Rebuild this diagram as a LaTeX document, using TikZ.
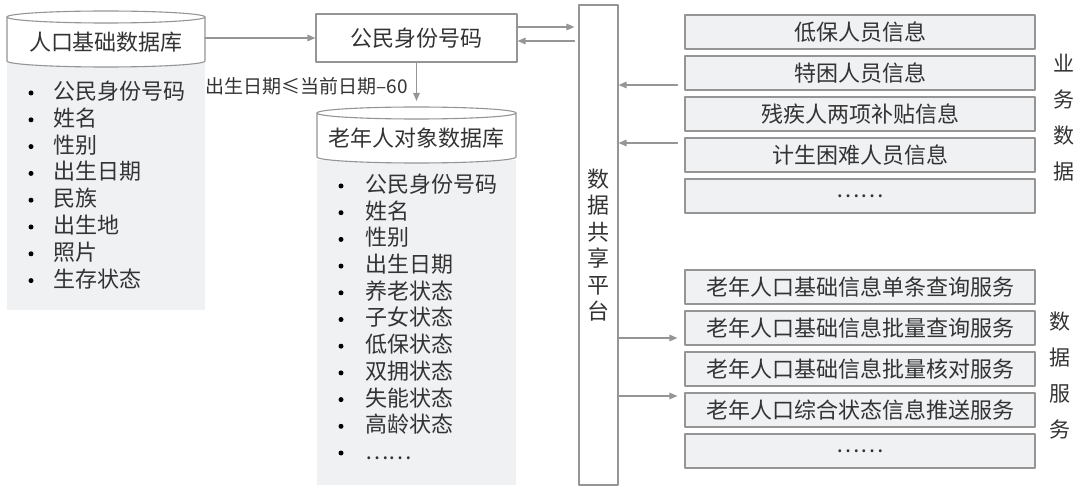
\documentclass[tikz,border=0pt]{standalone}
\usepackage{fontspec}
\setmainfont{Noto Sans CJK SC}
\usetikzlibrary{arrows.meta,positioning}
\definecolor{edgegray}{HTML}{959595}
\definecolor{panelgray}{HTML}{F0F1F3}
\definecolor{inkgray}{HTML}{333333}

\begin{document}
\begin{tikzpicture}[x=1pt,y=-1pt, line cap=round, line join=round,
    font=\fontsize{22}{26}\selectfont, text=inkgray,
    flow/.style={draw=edgegray, line width=1.3pt, -{Triangle[length=8pt,width=6.5pt]}},
    rowbox/.style={draw=edgegray, line width=1.1pt, fill=panelgray, minimum width=350pt, minimum height=34pt, inner sep=0pt},
    listitem/.style={anchor=west, inner sep=0pt, text height=17pt, text depth=4pt},
    vlabel/.style={align=center, inner sep=0pt, font=\fontsize{21}{36}\selectfont}]
    \useasboundingbox (0,0) rectangle (1080,489);

    % Population database
    \fill[panelgray] (7,62) rectangle (205,310);
    \draw[edgegray, line width=1.1pt, fill=white] (7,17) -- (7,61) arc[start angle=180, end angle=360, x radius=99pt, y radius=6pt] -- (205,17);
    \draw[edgegray, line width=1.1pt, fill=white] (106,17) ellipse [x radius=99pt, y radius=6pt];
    \node (popdb) at (106,42) {人口基础数据库};
    \coordinate (popdbR) at (205,38);
    \foreach \t [count=\i from 0] in {公民身份号码,姓名,性别,出生日期,民族,出生地,照片,生存状态}{
        \fill[black] (31,93+26.8*\i) circle (2.5pt);
        \node[listitem] (pop\i) at (53,93+26.8*\i) {\t};
    }

    % ID number box
    \node[draw=edgegray, line width=1.1pt, minimum width=201pt, minimum height=48pt] (idnum) at (416.5,38) {公民身份号码};
    \draw[flow] (popdbR) -- (idnum);

    % Elderly database
    \fill[panelgray] (317,160) rectangle (516,485);
    \draw[edgegray, line width=1.1pt, fill=white] (317,113) -- (317,157) arc[start angle=180, end angle=360, x radius=99.5pt, y radius=6pt] -- (516,113);
    \draw[edgegray, line width=1.1pt, fill=white] (416.5,113) ellipse [x radius=99.5pt, y radius=6pt];
    \node (elderdb) at (416.5,138) {老年人对象数据库};
    \foreach \t [count=\i from 0] in {公民身份号码,姓名,性别,出生日期,养老状态,子女状态,低保状态,双拥状态,失能状态,高龄状态,……}{
        \fill[black] (341,186+26.7*\i) circle (2.5pt);
        \node[listitem] (eld\i) at (365,186+26.7*\i) {\t};
    }
    \coordinate (elderdbT) at (416.5,101);
    \draw[flow] (idnum) -- (elderdbT);
    \node[anchor=east, inner sep=0pt, font=\fontsize{19}{22}\selectfont] (agerule) at (408,86) {出生日期≤当前日期–60};

    % Sharing platform
    \node[draw=edgegray, line width=1.1pt, minimum width=39pt, minimum height=480pt, align=center, font=\fontsize{22}{26.5}\selectfont] (platform) at (598.5,245) {数\\据\\共\\享\\平\\台};
    \coordinate (sendA) at ([yshift=11pt]idnum.east);
    \coordinate (backA) at ([yshift=-3pt]idnum.east);
    \draw[flow, shorten >=4pt] (sendA) -- (sendA -| platform.west);
    \draw[flow, shorten <=4pt] (backA -| platform.west) -- (backA);

    % Business data
    \foreach \t [count=\i from 0] in {低保人员信息,特困人员信息,残疾人两项补贴信息,计生困难人员信息,……}
        \node[rowbox] (biz\i) at (860,32+41*\i) {\t};
    \node[vlabel] (bizlabel) at (1064,118) {业\\务\\数\\据};
    \coordinate (inA) at ([yshift=-12pt]biz1.west);
    \coordinate (inB) at ([yshift=12pt]biz3.west);
    \draw[flow, shorten <=7pt] (inA) -- (inA -| platform.east);
    \draw[flow, shorten <=7pt] (inB) -- (inB -| platform.east);

    % Data services
    \foreach \t [count=\i from 0] in {老年人口基础信息单条查询服务,老年人口基础信息批量查询服务,老年人口基础信息批量核对服务,老年人口综合状态信息推送服务,……}
        \node[rowbox] (svc\i) at (860,287+41*\i) {\t};
    \node[vlabel] (svclabel) at (1060,375) {数\\据\\服\\务};
    \coordinate (outA) at ([yshift=-10pt]svc1.west);
    \coordinate (outB) at ([yshift=14pt]svc3.west);
    \draw[flow, shorten >=7pt] (outA -| platform.east) -- (outA);
    \draw[flow, shorten >=7pt] (outB -| platform.east) -- (outB);
\end{tikzpicture}
\end{document}
